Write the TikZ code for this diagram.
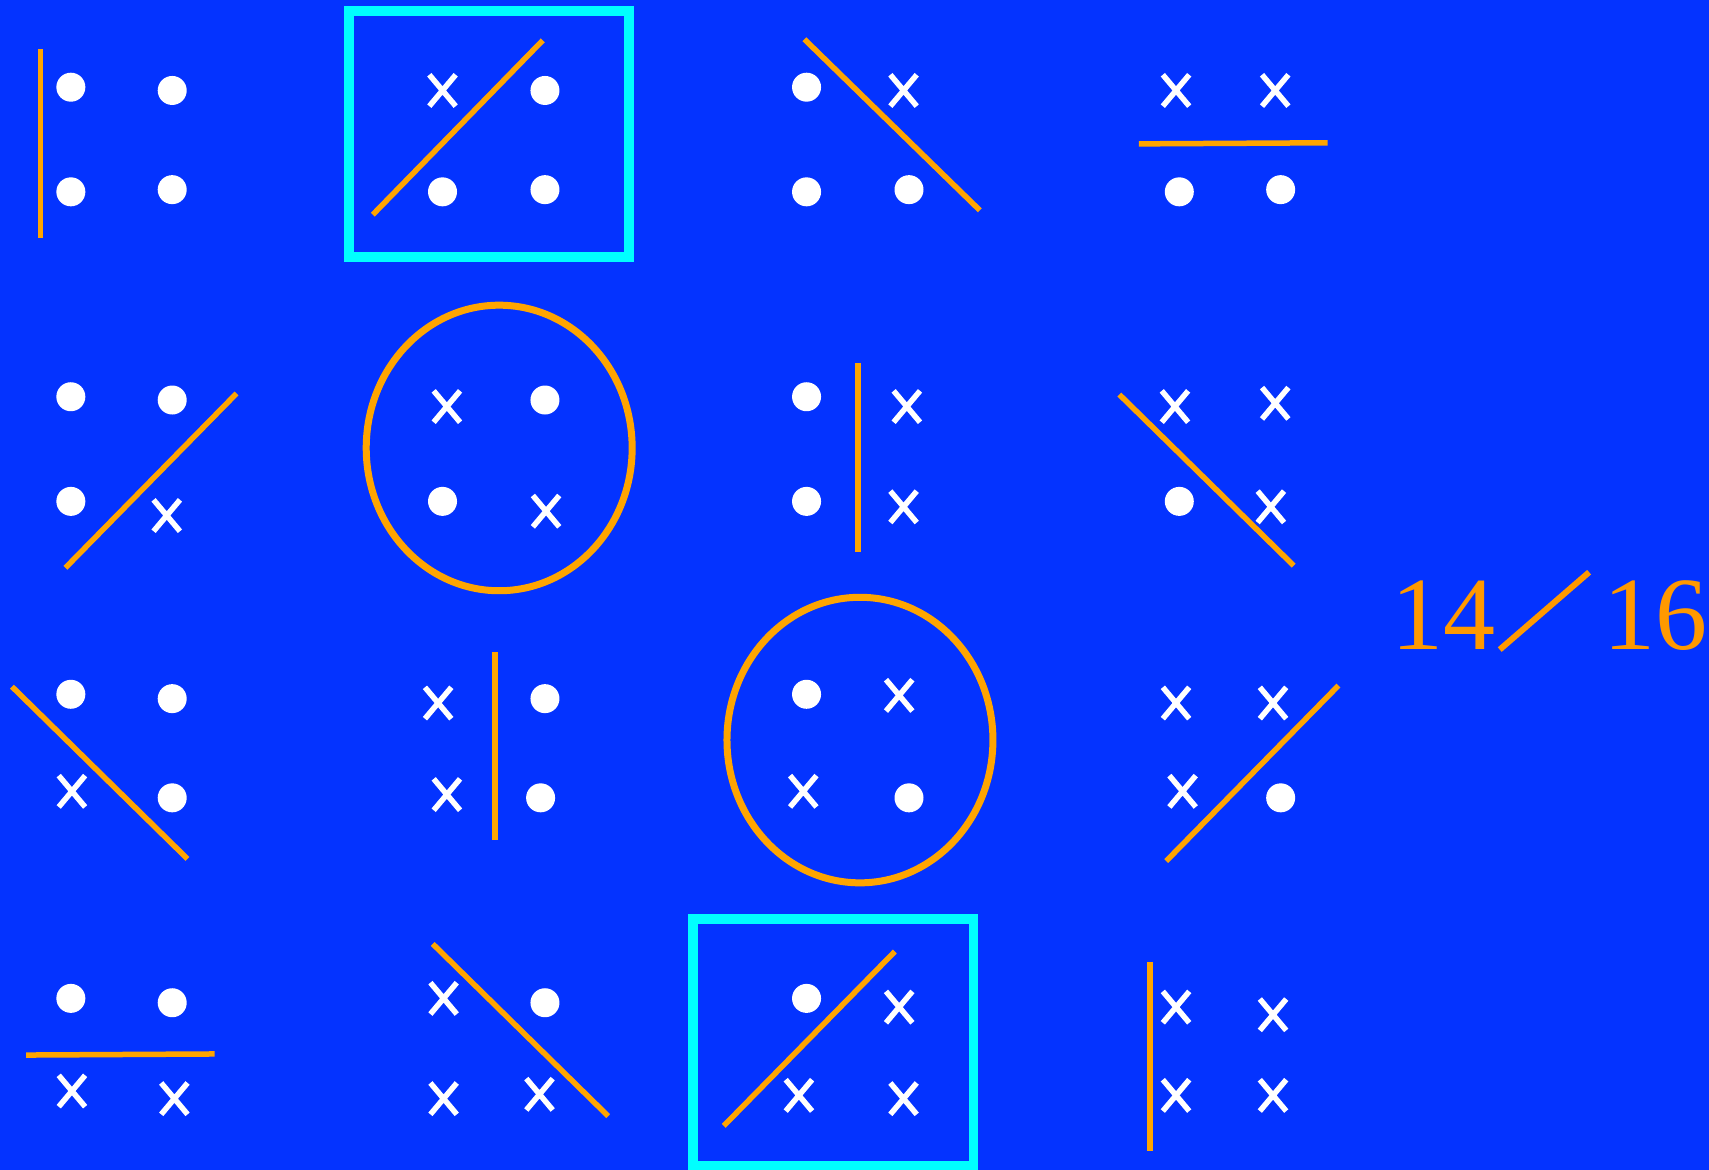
\documentclass[tikz,border=0pt]{standalone}
\usepackage{fontspec}
\setmainfont{Liberation Serif}
\definecolor{bg}{RGB}{4,51,255}
\definecolor{org}{RGB}{255,165,0}
\definecolor{txtorg}{RGB}{255,153,0}
\definecolor{cy}{RGB}{0,255,255}
\tikzset{
  dot/.style={circle,fill=white,draw=none,inner sep=0pt,minimum size=29pt},
  crs/.style={rectangle,draw=none,inner sep=0pt,minimum width=26pt,minimum height=31pt},
  xline/.style={draw=white,line width=5.5pt},
  sep/.style={draw=org,line width=5.5pt},
  ring/.style={draw=org,line width=7pt},
  hilite/.style={draw=cy,line width=9.5pt},
}
\begin{document}
\begin{tikzpicture}[x=1.0899pt,y=-1.0899pt]
\fill[bg] (0,0) rectangle (1568,1073);
\useasboundingbox (0,0) rectangle (1568,1073);
% ---------- row 1 ----------
\draw[sep] (37,45) -- (37,218);
\node[dot] (a1) at (65,80) {}; \node[dot] (a2) at (158,83) {};
\node[dot] (a3) at (65,176) {}; \node[dot] (a4) at (158,174) {};

\draw[hilite] (320,10) rectangle (577,236);
\draw[sep] (342,197) -- (498,37);
\node[crs] (b1) at (406,83) {}; \node[dot] (b2) at (500,83) {};
\node[dot] (b3) at (406,176) {}; \node[dot] (b4) at (500,174) {};

\draw[sep] (738,36) -- (899,193);
\node[dot] (c1) at (740,80) {}; \node[crs] (c2) at (829,83) {};
\node[dot] (c3) at (740,176) {}; \node[dot] (c4) at (834,174) {};

\draw[sep] (1045,132) -- (1218,131);
\node[crs] (d1) at (1079,83) {}; \node[crs] (d2) at (1170,83) {};
\node[dot] (d3) at (1082,176) {}; \node[dot] (d4) at (1175,174) {};
% ---------- row 2 ----------
\draw[sep] (60,521) -- (217,361);
\node[dot] (e1) at (65,364) {}; \node[dot] (e2) at (158,367) {};
\node[dot] (e3) at (65,460) {}; \node[crs] (e4) at (153,473) {};

\draw[ring] (458,411) ellipse [x radius=122, y radius=131];
\node[crs] (f1) at (410,373) {}; \node[dot] (f2) at (500,367) {};
\node[dot] (f3) at (406,460) {}; \node[crs] (f4) at (501,469) {};

\draw[sep] (787,333) -- (787,506);
\node[dot] (g1) at (740,364) {}; \node[crs] (g2) at (832,373) {};
\node[dot] (g3) at (740,460) {}; \node[crs] (g4) at (829,465) {};

\draw[sep] (1027,362) -- (1187,519);
\node[crs] (h1) at (1078,373) {}; \node[crs] (h2) at (1170,370) {};
\node[dot] (h3) at (1082,460) {}; \node[crs] (h4) at (1166,465) {};
% ---------- row 3 ----------
\draw[sep] (11,630) -- (172,788);
\node[dot] (i1) at (65,637) {}; \node[dot] (i2) at (158,641) {};
\node[crs] (i3) at (66,726) {}; \node[dot] (i4) at (158,732) {};

\draw[sep] (454,598) -- (454,771);
\node[crs] (j1) at (402,645) {}; \node[dot] (j2) at (500,641) {};
\node[crs] (j3) at (410,729) {}; \node[dot] (j4) at (496,732) {};

\draw[ring] (789,679) ellipse [x radius=122, y radius=131];
\node[dot] (k1) at (740,637) {}; \node[crs] (k2) at (825,638) {};
\node[crs] (k3) at (737,726) {}; \node[dot] (k4) at (834,732) {};

\draw[sep] (1070,790) -- (1228,629);
\node[crs] (l1) at (1079,645) {}; \node[crs] (l2) at (1168,645) {};
\node[crs] (l3) at (1085,726) {}; \node[dot] (l4) at (1175,732) {};
% ---------- row 4 ----------
\draw[sep] (24,968) -- (197,967);
\node[dot] (m1) at (65,916) {}; \node[dot] (m2) at (158,920) {};
\node[crs] (m3) at (66,1001) {}; \node[crs] (m4) at (160,1008) {};

\draw[sep] (397,866) -- (558,1024);
\node[crs] (n1) at (407,916) {}; \node[dot] (n2) at (500,920) {};
\node[crs] (n3) at (407,1008) {}; \node[crs] (n4) at (495,1004) {};

\draw[hilite] (636,843) rectangle (893,1070);
\draw[sep] (664,1033) -- (821,873);
\node[dot] (o1) at (740,916) {}; \node[crs] (o2) at (825,924) {};
\node[crs] (o3) at (733,1005) {}; \node[crs] (o4) at (829,1008) {};

\draw[sep] (1055,883) -- (1055,1056);
\node[crs] (p1) at (1079,924) {}; \node[crs] (p2) at (1168,931) {};
\node[crs] (p3) at (1079,1005) {}; \node[crs] (p4) at (1168,1005) {};
% ---------- crosses ----------
\foreach \n in {b1,c2,d1,d2,e4,f1,f4,g2,g4,h1,h2,h4,i3,j1,j3,k2,k3,l1,l2,l3,m3,m4,n1,n3,n4,o2,o3,o4,p1,p2,p3,p4}
  \draw[xline] (\n.north west) -- (\n.south east) (\n.north east) -- (\n.south west);
% ---------- score ----------
\node[anchor=base,inner sep=0pt,text=txtorg,font=\fontsize{104}{104}\selectfont] (s1) at (1324,596) {14};
\node[anchor=base,inner sep=0pt,text=txtorg,font=\fontsize{104}{104}\selectfont] (s2) at (1519,596) {16};
\draw[draw=txtorg,line width=6pt] (1376,596) -- (1458,525);
\end{tikzpicture}
\end{document}
